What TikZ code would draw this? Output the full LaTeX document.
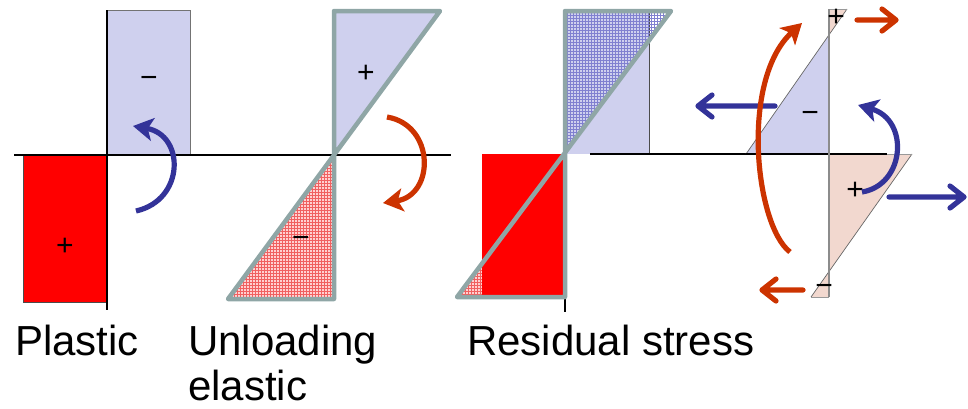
\documentclass[tikz,border=0pt]{standalone}
\usepackage{fontspec}
\setmainfont{Liberation Sans}
\usetikzlibrary{arrows.meta,patterns}
\definecolor{lav}{HTML}{CFD0EE}
\definecolor{pinkish}{HTML}{F2D8CF}
\definecolor{grayedge}{HTML}{8FA6A6}
\definecolor{myblue}{HTML}{333399}
\definecolor{myorange}{HTML}{CC3300}
\definecolor{myred}{HTML}{FF0000}
\definecolor{hatchblue}{HTML}{8080D0}
\definecolor{hatchred}{HTML}{F06060}
\tikzset{
  lbl/.style={anchor=base west,inner sep=0pt,font=\fontsize{42}{42}\selectfont},
  sign/.style={inner sep=0pt,font=\fontsize{30}{30}\selectfont},
  curvarrow/.style={line width=5.2pt,-{Stealth[length=20pt,width=23pt,inset=5pt]}},
  strarrow/.style={line width=5.2pt,line cap=round,line join=round},
  zedge/.style={draw=grayedge,line width=4.5pt,line join=round},
  thinedge/.style={draw=black!55,line width=0.7pt},
  axis/.style={draw=black,line width=1.4pt},
}
\begin{document}
\begin{tikzpicture}[x=1pt,y=-1pt]
\useasboundingbox (0,0) rectangle (968,408);
% ---------- Plastic panel ----------
\fill[lav,thinedge] (107,10) rectangle (190,155);
\fill[myred,draw=black!70,line width=0.7pt] (23,155) rectangle (107,302);
\draw[axis] (14,155) -- (451,155);
\draw[black,line width=1.2pt] (107,10) -- (107,310);
\node[sign] (pm) at (149,82) {−};
\node[sign] (pp) at (65,247) {+};
\coordinate (ba1) at (136,211);
\coordinate (ba2) at (133,126);
\draw[myblue,curvarrow] (ba1) .. controls (185,200) and (185,135) .. (ba2);
% ---------- Unloading panel ----------
\fill[lav] (334,11) -- (440,11) -- (334,155) -- cycle;
\fill[red!18] (334,155) -- (334,299) -- (228,299) -- cycle;
\fill[pattern=grid,pattern color=hatchred] (334,155) -- (334,299) -- (228,299) -- cycle;
\draw[zedge] (334,155) -- (334,11) -- (440,11) -- (228,299) -- (334,299) -- (334,155);
\node[sign] (up) at (366,74) {+};
\node[sign] (um) at (301,242) {−};
\coordinate (oa1) at (387,117);
\coordinate (oa2) at (383,203);
\draw[myorange,curvarrow] (oa1) .. controls (435,125) and (435,195) .. (oa2);
% ---------- Residual stress panel ----------
\fill[lav] (565,11) rectangle (649,154);
\draw[black!70,line width=0.7pt] (649,11) -- (649,154);
\fill[pattern=grid,pattern color=hatchblue] (565,11) -- (671,11) -- (565,154) -- cycle;
\fill[red!18] (565,154) -- (565,297) -- (457,297) -- cycle;
\fill[pattern=grid,pattern color=hatchred] (565,154) -- (565,297) -- (457,297) -- cycle;
\fill[myred] (482,154) rectangle (565,297);
\draw[axis] (590,154) -- (887,154);
\draw[black,line width=1.2pt] (565,297) -- (565,312);
\draw[zedge] (565,154) -- (565,11) -- (671,11) -- (457,297) -- (565,297) -- (565,154);
% ---------- Right panel ----------
\fill[pinkish] (829,9) -- (847,9) -- (829,35) -- cycle;
\fill[lav] (829,35) -- (746,154) -- (829,154) -- cycle;
\fill[pinkish] (829,154) -- (912,154) -- (829,271.5) -- cycle;
\fill[pinkish] (829,271.5) -- (829,297) -- (811,297) -- cycle;
\draw[black!60,line width=0.7pt] (847,9) -- (746,154);
\draw[black!60,line width=0.7pt] (912,154) -- (811,297);
\draw[black!40,line width=0.8pt] (829,9) -- (847,9);
\draw[black!40,line width=0.8pt] (811,297) -- (829,297);
\draw[black!40,line width=0.8pt] (887,154) -- (912,154);
\draw[axis] (746,154) -- (887,154);
\draw[black!45,line width=1.4pt] (829,9) -- (829,297);
\node[sign] (rp1) at (836,18) {+};
\node[sign] (rm1) at (810,117) {−};
\node[sign] (rp2) at (855,191) {+};
\node[sign] (rm2) at (824,290) {−};
% straight arrows (shaft + chevron head)
\coordinate (s1a) at (857,20);
\coordinate (s1b) at (896,20);
\coordinate (s2a) at (775,106);
\coordinate (s2b) at (698,106);
\coordinate (s3a) at (889,197);
\coordinate (s3b) at (964,197);
\coordinate (s4a) at (803,290);
\coordinate (s4b) at (762,290);
\draw[myorange,strarrow] (s1a) -- (s1b)
  ([shift={(-14,-11)}]s1b) -- (s1b) -- ([shift={(-14,11)}]s1b);
\draw[myblue,strarrow] (s2a) -- (s2b)
  ([shift={(14,-11)}]s2b) -- (s2b) -- ([shift={(14,11)}]s2b);
\draw[myblue,strarrow] (s3a) -- (s3b)
  ([shift={(-14,-11)}]s3b) -- (s3b) -- ([shift={(-14,11)}]s3b);
\draw[myorange,strarrow] (s4a) -- (s4b)
  ([shift={(14,-11)}]s4b) -- (s4b) -- ([shift={(14,11)}]s4b);
% curved arrows
\coordinate (ca1) at (790,252);
\coordinate (ca2) at (802,23);
\draw[myorange,curvarrow] (ca1) .. controls (755,225) and (740,80) .. (ca2);
\coordinate (cb1) at (862,192);
\coordinate (cb2) at (858,105);
\draw[myblue,curvarrow] (cb1) .. controls (905,185) and (910,120) .. (cb2);
% ---------- Labels ----------
\node[lbl] (plastic) at (15,355) {Plastic};
\node[lbl] (unload) at (188,355) {Unloading};
\node[lbl] (elastic) at (188,400) {elastic};
\node[lbl] (resid) at (467,355) {Residual stress};
\end{tikzpicture}
\end{document}
